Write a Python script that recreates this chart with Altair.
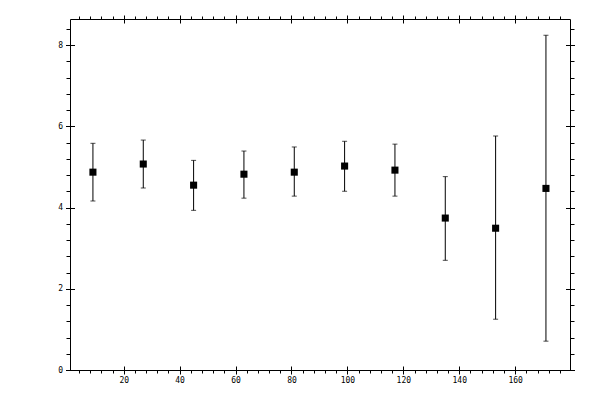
import altair as alt
import pandas as pd

x_vals = [9, 27, 45, 63, 81, 99, 117, 135, 153, 171]
y_vals = [4.87, 5.07, 4.55, 4.82, 4.87, 5.02, 4.92, 3.74, 3.49, 4.47]
lo_vals = [4.16, 4.48, 3.93, 4.23, 4.28, 4.40, 4.28, 2.70, 1.25, 0.71]
hi_vals = [5.58, 5.66, 5.16, 5.39, 5.49, 5.63, 5.56, 4.76, 5.76, 8.24]

x_major = [20, 40, 60, 80, 100, 120, 140, 160]
x_minor = [v for v in range(4, 180, 4) if v % 20 != 0]
y_major = [0, 2, 4, 6, 8]
y_minor = [round(i * 0.4, 1) for i in range(1, 22) if i % 5 != 0]

df = pd.DataFrame({"x": x_vals, "y": y_vals, "lo": lo_vals, "hi": hi_vals})

xs = alt.Scale(domain=[0.8, 179.6], nice=False, zero=False)
ys = alt.Scale(domain=[0, 8.64], nice=False, zero=False)

FONT = "DejaVu Sans Mono"


def ax(orient, values, size, offset, labels=False, pad=2):
    kw = dict(orient=orient, values=values, tickSize=size, offset=offset,
              domain=False, grid=False, labels=labels, title=None,
              tickColor="black", tickWidth=1)
    if labels:
        kw.update(labelFont=FONT, labelFontSize=8, labelColor="black",
                  labelPadding=pad, format="d")
    return alt.Axis(**kw)


base = alt.Chart(df)

bars = base.mark_rule(color="black", strokeWidth=1).encode(
    x=alt.X("x:Q", scale=xs, axis=ax("bottom", x_major, 8, -4, True, 2)),
    y=alt.Y("lo:Q", scale=ys, axis=ax("left", y_major, 9, -4.5, True, 3)),
    y2="hi:Q",
)
cap_top = base.mark_tick(color="black", orient="horizontal", size=5, thickness=1).encode(
    x=alt.X("x:Q", scale=xs, axis=None),
    y=alt.Y("hi:Q", scale=ys, axis=None),
)
cap_bot = base.mark_tick(color="black", orient="horizontal", size=5, thickness=1).encode(
    x=alt.X("x:Q", scale=xs, axis=None),
    y=alt.Y("lo:Q", scale=ys, axis=None),
)
pts = base.mark_square(color="black", opacity=1, size=50).encode(
    x=alt.X("x:Q", scale=xs, axis=None),
    y=alt.Y("y:Q", scale=ys, axis=None),
)
ax1 = base.mark_point(opacity=0).encode(
    x=alt.X("x:Q", scale=xs, axis=ax("bottom", x_minor, 3, 0)),
    y=alt.Y("y:Q", scale=ys, axis=ax("left", y_minor, 4, 0)),
)
ax2 = base.mark_point(opacity=0).encode(
    x=alt.X("x:Q", scale=xs, axis=ax("top", x_major, 8, -4)),
    y=alt.Y("y:Q", scale=ys, axis=ax("right", y_major, 9, -4.5)),
)
ax3 = base.mark_point(opacity=0).encode(
    x=alt.X("x:Q", scale=xs, axis=ax("top", x_minor, 3, 0)),
    y=alt.Y("y:Q", scale=ys, axis=ax("right", y_minor, 4, 0)),
)

chart = alt.layer(bars, cap_top, cap_bot, pts, ax1, ax2, ax3).resolve_axis(
    x="independent", y="independent"
).properties(
    width=500, height=351,
    autosize=alt.AutoSizeParams(type="none"),
    padding={"left": 62, "top": 11, "right": 10, "bottom": 22},
    background="white",
).configure_view(stroke="black", strokeWidth=1)

chart.save("out.html", embed_options={"renderer": "svg", "actions": False})
